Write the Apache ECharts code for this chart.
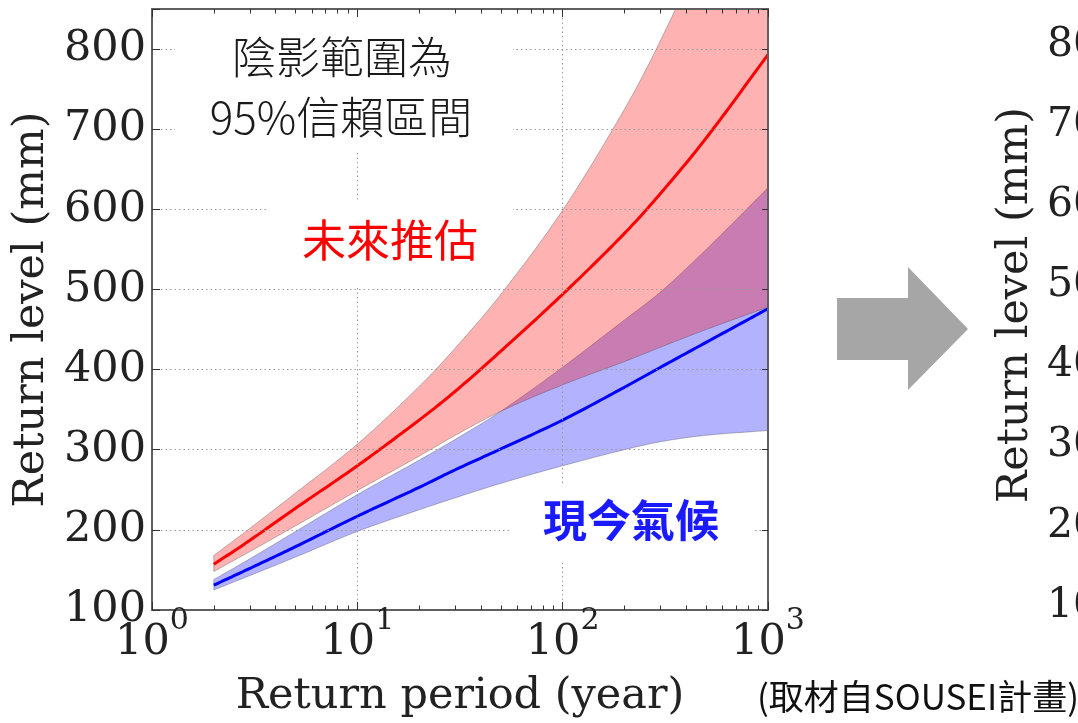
<!DOCTYPE html>
<html>
<head>
<meta charset="utf-8">
<title>Return level vs return period</title>
<script src="https://cdn.jsdelivr.net/npm/echarts@6/dist/echarts.min.js"></script>
<style>
  html, body { margin: 0; padding: 0; background: #ffffff; }
  #chart { width: 1078px; height: 723px; }
</style>
</head>
<body>
<div id="chart"></div>
<script>
// Return periods (years) at which the curves are sampled
const returnPeriods = [2, 3, 5, 10, 20, 30, 50, 100, 200, 300, 500, 1000];

// Future projection (未來推估): median and 95% confidence bounds, mm
const futureMedian = [157, 187, 227, 280, 337, 373, 423, 494, 570, 620, 689, 793];
const futureLower  = [148, 173, 205, 249, 292, 318, 348, 381, 410, 428, 450, 478];
const futureUpper  = [168, 202, 246, 307, 379, 427, 494, 599, 725, 811, 935, 1122];

// Present climate (現今氣候): median and 95% confidence bounds, mm
const presentMedian = [131, 152, 179, 217, 253, 275, 301, 337, 378, 403, 434, 476];
const presentLower  = [125, 143, 166, 198, 225, 240, 258, 280, 300, 310, 318, 324];
const presentUpper  = [138, 164, 198, 244, 287, 313, 348, 403, 462, 497, 550, 627];

// Axis ticks
const levelTicks = [100, 200, 300, 400, 500, 600, 700, 800];
const minorMultipliers = [2, 3, 4, 5, 6, 7, 8, 9];
const decades = [1, 10, 100];

const SERIF = '"DejaVu Serif", "Liberation Serif", serif';
const CJK = '"Noto Sans CJK TC", "Noto Sans CJK SC", sans-serif';
const FRAME = '#5f5f5f';
const GRIDLINE = { color: '#9a9a9a', width: 1, type: [1.5, 3] };

// minor tick positions in log10 space for the helper axes
const minorTickPositions = [];
decades.forEach(d => minorMultipliers.forEach(m => minorTickPositions.push(Math.log10(d * m))));

// Smooth curve through pixel points (cubic Hermite, finite-difference slopes)
function smoothCurve(pts) {
  const n = pts.length;
  const slope = i => {
    const a = pts[Math.max(0, i - 1)], b = pts[Math.min(n - 1, i + 1)];
    return (b[1] - a[1]) / (b[0] - a[0]);
  };
  const m = pts.map((p, i) => slope(i));
  const out = [pts[0]];
  for (let i = 0; i < n - 1; i++) {
    const [x0, y0] = pts[i], [x1, y1] = pts[i + 1];
    const dx = x1 - x0;
    const steps = 16;
    for (let k = 1; k <= steps; k++) {
      const t = k / steps, t2 = t * t, t3 = t2 * t;
      const h00 = 2 * t3 - 3 * t2 + 1, h10 = t3 - 2 * t2 + t, h01 = -2 * t3 + 3 * t2, h11 = t3 - t2;
      out.push([x0 + t * dx, h00 * y0 + h10 * dx * m[i] + h01 * y1 + h11 * dx * m[i + 1]]);
    }
  }
  return out;
}

const clipTo = cs => ({ type: 'rect', shape: { x: cs.x, y: cs.y, width: cs.width, height: cs.height } });

// Confidence band: along the upper bound and back along the lower bound
function band(name, lower, upper, fill) {
  return {
    name: name, type: 'custom', silent: true, z: 2,
    data: returnPeriods.map((t, i) => [t, lower[i], upper[i]]),
    encode: { x: 0, y: [1, 2] },
    renderItem: (params, api) => {
      if (params.dataIndex !== 0) return null;
      const top = smoothCurve(returnPeriods.map((t, i) => api.coord([t, upper[i]])));
      const bottom = smoothCurve(returnPeriods.map((t, i) => api.coord([t, lower[i]]))).reverse();
      return {
        type: 'polygon',
        shape: { points: top.concat(bottom) },
        style: { fill: fill, stroke: 'rgba(70,70,70,0.35)', lineWidth: 1 },
        clipPath: clipTo(params.coordSys)
      };
    }
  };
}

// Median return-level curve
function median(name, values, color) {
  return {
    name: name, type: 'custom', silent: true, z: 3,
    data: returnPeriods.map((t, i) => [t, values[i]]),
    encode: { x: 0, y: 1 },
    renderItem: (params, api) => {
      if (params.dataIndex !== 0) return null;
      return {
        type: 'polyline',
        shape: { points: smoothCurve(returnPeriods.map((t, i) => api.coord([t, values[i]]))) },
        style: { fill: null, stroke: color, lineWidth: 3, lineJoin: 'round' },
        clipPath: clipTo(params.coordSys)
      };
    }
  };
}

const chart = echarts.init(document.getElementById('chart'), null, { renderer: 'canvas' });

const option = {
  animation: false,
  backgroundColor: '#ffffff',
  grid: { left: 152, right: 310, top: 9, bottom: 113, containLabel: false },
  xAxis: [
    {
      type: 'log', logBase: 10, min: 1, max: 1000, splitNumber: 3, position: 'bottom', z: 5,
      axisLine: { show: true, onZero: false, lineStyle: { color: FRAME, width: 2 } },
      axisTick: { show: true, inside: true, length: 8, lineStyle: { color: '#333', width: 1 } },
      axisLabel: {
        margin: 11, color: '#222',
        formatter: v => '{b|10}{s|' + Math.round(Math.log10(v)) + '}',
        rich: {
          b: { fontFamily: SERIF, fontSize: 43, color: '#222', verticalAlign: 'bottom', lineHeight: 43 },
          s: { fontFamily: SERIF, fontSize: 30, color: '#222', verticalAlign: 'bottom', lineHeight: 30, padding: [0, 0, 28, 0] }
        }
      },
      splitLine: { show: true, showMinLine: false, showMaxLine: false, lineStyle: GRIDLINE },
      name: 'Return period (year)', nameLocation: 'middle', nameGap: 65,
      nameTextStyle: { fontFamily: SERIF, fontSize: 43, color: '#222' }
    },
    {
      type: 'log', logBase: 10, min: 1, max: 1000, splitNumber: 3, position: 'top', z: 5,
      axisLine: { show: true, onZero: false, lineStyle: { color: FRAME, width: 2 } },
      axisTick: { show: true, inside: true, length: 8, lineStyle: { color: '#333', width: 1 } },
      axisLabel: { show: false }, splitLine: { show: false }
    },
    {
      type: 'value', min: 0, max: 3, position: 'bottom', z: 5,
      axisLine: { show: false, onZero: false },
      axisTick: { show: true, inside: true, length: 4.5, customValues: minorTickPositions, lineStyle: { color: '#333', width: 1 } },
      axisLabel: { show: false }, splitLine: { show: false }
    },
    {
      type: 'value', min: 0, max: 3, position: 'top', z: 5,
      axisLine: { show: false, onZero: false },
      axisTick: { show: true, inside: true, length: 4.5, customValues: minorTickPositions, lineStyle: { color: '#333', width: 1 } },
      axisLabel: { show: false }, splitLine: { show: false }
    }
  ],
  yAxis: [
    {
      type: 'value', min: 100, max: 850, interval: 100, position: 'left', z: 5,
      axisLine: { show: true, onZero: false, lineStyle: { color: FRAME, width: 2 } },
      axisTick: { show: true, inside: true, length: 8, lineStyle: { color: '#333', width: 1 } },
      axisLabel: {
        fontFamily: SERIF, fontSize: 43, color: '#222', margin: 6,
        formatter: v => (levelTicks.indexOf(v) >= 0 ? String(v) : '')
      },
      splitLine: { show: true, showMinLine: false, showMaxLine: false, lineStyle: GRIDLINE },
      name: 'Return level (mm)', nameLocation: 'middle', nameGap: 99,
      nameTextStyle: { fontFamily: SERIF, fontSize: 43, color: '#222' }
    },
    {
      type: 'value', min: 100, max: 850, interval: 100, position: 'right', z: 5,
      axisLine: { show: true, onZero: false, lineStyle: { color: FRAME, width: 2 } },
      axisTick: { show: true, inside: true, length: 6, lineStyle: { color: '#333', width: 1 } },
      axisLabel: { show: false }, splitLine: { show: false }
    }
  ],
  series: [
    band('現今氣候 95%', presentLower, presentUpper, 'rgba(0,0,255,0.3)'),
    band('未來推估 95%', futureLower, futureUpper, 'rgba(255,0,0,0.3)'),
    median('現今氣候', presentMedian, '#0000ff'),
    median('未來推估', futureMedian, '#ff0000')
  ]
};

chart.setOption(option);

// Annotations, plain backgrounds behind them, the arrow and the next panel's edge
const rightPanelLabels = levelTicks.map(v => ({
  type: 'text', z: 7,
  x: 1047, y: chart.convertToPixel({ yAxisIndex: 0 }, v) - 4,
  style: { text: String(v), fontFamily: SERIF, fontSize: 41, fill: '#222', align: 'left', verticalAlign: 'middle' }
}));

chart.setOption({
  graphic: [
    { type: 'rect', z: 6, silent: true, shape: { x: 175, y: 18, width: 338, height: 135 }, style: { fill: '#ffffff' } },
    { type: 'polygon', z: 6, silent: true,
      shape: { points: [[267, 200], [513, 200], [513, 268], [494, 286], [267, 286]] }, style: { fill: '#ffffff' } },
    { type: 'rect', z: 6, silent: true, shape: { x: 510, y: 483, width: 245, height: 77 }, style: { fill: '#ffffff' } },

    { type: 'text', z: 7, x: 342, y: 57,
      style: { text: '陰影範圍為', fontFamily: CJK, fontSize: 44, fontWeight: 300, fill: '#1a1a1a', align: 'center', verticalAlign: 'middle' } },
    { type: 'text', z: 7, x: 341, y: 117,
      style: { text: '95%信賴區間', fontFamily: CJK, fontSize: 44, fontWeight: 300, fill: '#1a1a1a', align: 'center', verticalAlign: 'middle' } },
    { type: 'text', z: 7, x: 390, y: 240,
      style: { text: '未來推估', fontFamily: CJK, fontSize: 44, fill: '#ff0000', align: 'center', verticalAlign: 'middle' } },
    { type: 'text', z: 7, x: 631, y: 520,
      style: { text: '現今氣候', fontFamily: CJK, fontSize: 44, fontWeight: 'bold', fill: '#1a1aff', align: 'center', verticalAlign: 'middle' } },

    { type: 'polygon', z: 7, silent: true,
      shape: { points: [[837, 298], [908, 298], [908, 267], [968, 329], [908, 390], [908, 360], [837, 360]] },
      style: { fill: '#a6a6a6' } },

    { type: 'text', z: 7, x: 1016, y: 305, rotation: Math.PI / 2,
      style: { text: 'Return level (mm)', fontFamily: SERIF, fontSize: 43, fill: '#222', align: 'center', verticalAlign: 'middle' } },
    ...rightPanelLabels,

    { type: 'text', z: 7, x: 757, y: 697,
      style: { text: '(取材自SOUSEI計畫)', fontFamily: CJK, fontSize: 35, fill: '#111', align: 'left', verticalAlign: 'middle' } }
  ]
});
</script>
</body>
</html>
